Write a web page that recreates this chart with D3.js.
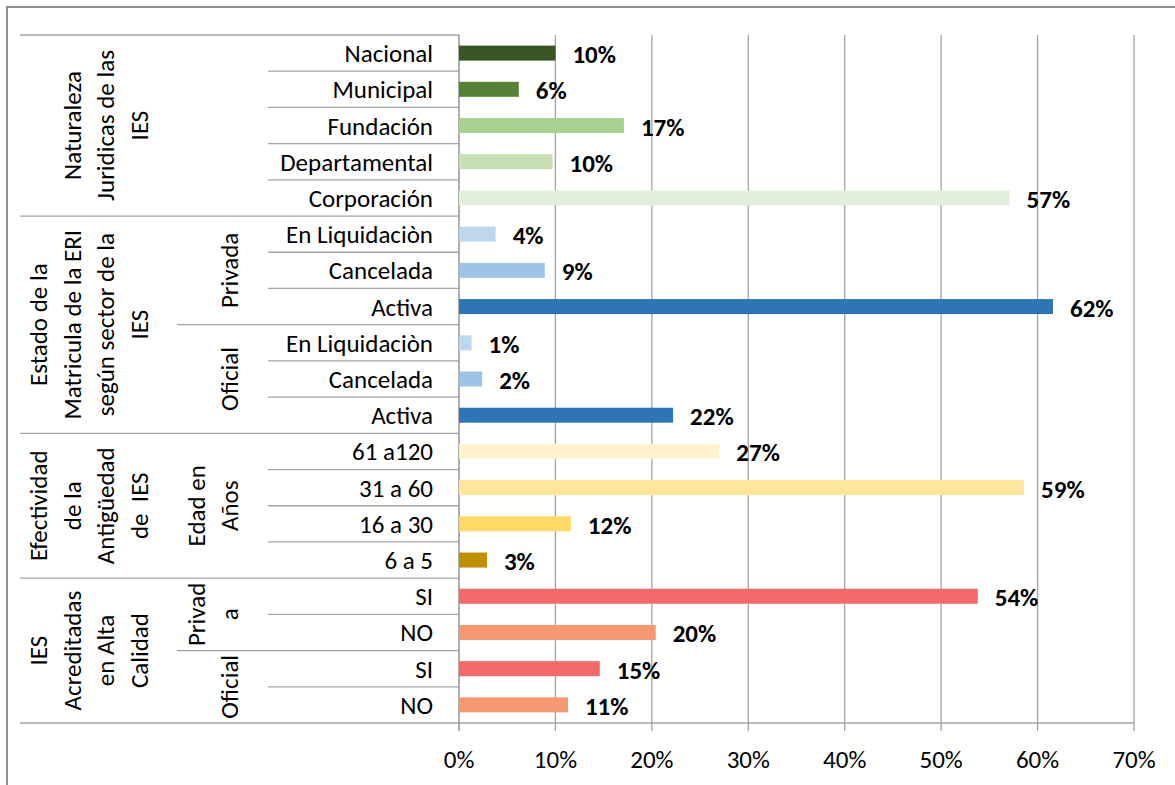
<!DOCTYPE html>
<html>
<head>
<meta charset="utf-8">
<script src="https://cdn.jsdelivr.net/npm/d3@7"></script>
<style>
  body { margin: 0; background: #fff; }
  svg { display: block; font-family: Carlito, Calibri, Lato, sans-serif; }
</style>
</head>
<body>
<div id="chart"></div>
<script>
// rows from top to bottom
const categories = ['Nacional', 'Municipal', 'Fundación', 'Departamental', 'Corporación',
  'En Liquidaciòn', 'Cancelada', 'Activa', 'En Liquidaciòn', 'Cancelada', 'Activa',
  '61 a120', '31 a 60', '16 a 30', '6 a 5',
  'SI', 'NO', 'SI', 'NO'];
const values = [10.0, 6.2, 17.1, 9.7, 57.1,
  3.8, 8.9, 61.6, 1.3, 2.4, 22.2,
  27.0, 58.6, 11.6, 2.9,
  53.8, 20.4, 14.6, 11.3];
const barColors = ['#375623', '#548235', '#a9d08e', '#c6e0b4', '#e2efda',
  '#bdd7ee', '#9dc3e6', '#2e75b6', '#bdd7ee', '#9dc3e6', '#2e75b6',
  '#fff2cc', '#ffe699', '#ffd966', '#bf8f00',
  '#f4686a', '#f79870', '#f4686a', '#f79870'];
// second level of the category axis: [lines, first row, row after last]
const level2 = [
  [['Privada'], 5, 8],
  [['Oficial'], 8, 11],
  [['Edad en', 'Años'], 11, 15],
  [['Privad', 'a'], 15, 17],
  [['Oficial'], 17, 19],
];
// outer level
const level3 = [
  [['Naturaleza', 'Juridicas de las', 'IES'], 0, 5],
  [['Estado de la', 'Matricula de la ERI', 'según sector de la', 'IES'], 5, 11],
  [['Efectividad', 'de la', 'Antigüedad', 'de  IES'], 11, 15],
  [['IES', 'Acreditadas', 'en Alta', 'Calidad'], 15, 19],
];
const xTicks = [0, 10, 20, 30, 40, 50, 60, 70];

const W = 1175, H = 785;
const plot = { left: 459, right: 1134, top: 35, bottom: 723 };
const barH = 15;
const fontSize = 25;
const lineGrey = '#a3a3a3';

const svg = d3.select('#chart').append('svg')
  .attr('width', W)
  .attr('height', H);

// chart frame
svg.append('rect')
  .attr('x', 7).attr('y', 7)
  .attr('width', W + 10).attr('height', H + 10)
  .attr('fill', 'none')
  .attr('stroke', '#8e8e8e')
  .attr('stroke-width', 2);

const x = d3.scaleLinear().domain([0, 70]).range([plot.left, plot.right]);
const y = d3.scaleBand()
  .domain(d3.range(categories.length))
  .range([plot.top, plot.bottom]);

// vertical gridlines + ticks below the axis
svg.append('g')
  .selectAll('line')
  .data(xTicks)
  .join('line')
  .attr('x1', (d) => x(d)).attr('x2', (d) => x(d))
  .attr('y1', plot.top).attr('y2', plot.bottom + 8)
  .attr('stroke', lineGrey)
  .attr('stroke-width', 1.3);

// x axis line
svg.append('line')
  .attr('x1', plot.left).attr('x2', plot.right)
  .attr('y1', plot.bottom).attr('y2', plot.bottom)
  .attr('stroke', lineGrey).attr('stroke-width', 1.3);

// tick labels
svg.append('g')
  .selectAll('text')
  .data(xTicks)
  .join('text')
  .attr('x', (d) => x(d))
  .attr('y', plot.bottom + 45)
  .attr('text-anchor', 'middle')
  .style('font-size', fontSize + 'px')
  .attr('fill', '#000')
  .text((d) => d + '%');

// category axis separators
const lvl1Left = 268, lvl2Left = 177, lvl3Left = 20;
const bounds = d3.range(categories.length + 1);
const startsL2 = new Set(level2.map((g) => g[1]).concat(level2.map((g) => g[2])));
const startsL3 = new Set(level3.map((g) => g[1]).concat(level3.map((g) => g[2])));
const rowTop = (i) => (i < categories.length ? y(i) : plot.bottom);

svg.append('g')
  .selectAll('line')
  .data(bounds)
  .join('line')
  .attr('x1', (i) => (startsL3.has(i) ? lvl3Left : startsL2.has(i) ? lvl2Left : lvl1Left))
  .attr('x2', plot.left)
  .attr('y1', (i) => rowTop(i))
  .attr('y2', (i) => rowTop(i))
  .attr('stroke', lineGrey)
  .attr('stroke-width', 1.3);

// y axis line
svg.append('line')
  .attr('x1', plot.left).attr('x2', plot.left)
  .attr('y1', plot.top).attr('y2', plot.bottom + 8)
  .attr('stroke', lineGrey).attr('stroke-width', 1.3);

// bars
svg.append('g')
  .selectAll('rect')
  .data(values)
  .join('rect')
  .attr('x', x(0))
  .attr('y', (d, i) => y(i) + (y.bandwidth() - barH) / 2)
  .attr('width', (d) => x(d) - x(0))
  .attr('height', barH)
  .attr('fill', (d, i) => barColors[i]);

// data labels
svg.append('g')
  .selectAll('text')
  .data(values)
  .join('text')
  .attr('x', (d) => x(d) + 17)
  .attr('y', (d, i) => y(i) + y.bandwidth() / 2 + 10)
  .style('font-size', fontSize + 'px')
  .style('font-weight', 'bold')
  .attr('fill', '#000')
  .text((d) => Math.round(d) + '%');

// innermost category labels
svg.append('g')
  .selectAll('text')
  .data(categories)
  .join('text')
  .attr('x', 433)
  .attr('y', (d, i) => y(i) + y.bandwidth() / 2 + 9)
  .attr('text-anchor', 'end')
  .style('font-size', fontSize + 'px')
  .attr('fill', '#000')
  .text((d) => d);

// rotated group labels, last line sits at a fixed x
function groupLabels(groups, lastX, lineH) {
  const t = svg.append('g')
    .selectAll('text')
    .data(groups)
    .join('text')
    .attr('transform', (g) => {
      const cy = (rowTop(g[1]) + rowTop(g[2])) / 2;
      return 'translate(' + lastX + ',' + cy + ') rotate(-90)';
    })
    .attr('text-anchor', 'middle')
    .style('font-size', fontSize + 'px')
    .attr('fill', '#000');
  t.selectAll('tspan')
    .data((g) => g[0].map((s, k) => [s, k - (g[0].length - 1)]))
    .join('tspan')
    .attr('x', 0)
    .attr('y', (d) => d[1] * lineH)
    .attr('dy', '0.35em')
    .style('white-space', 'pre')
    .text((d) => d[0]);
}
groupLabels(level2, 229, 33);
groupLabels(level3, 139, 33.5);
</script>
</body>
</html>
